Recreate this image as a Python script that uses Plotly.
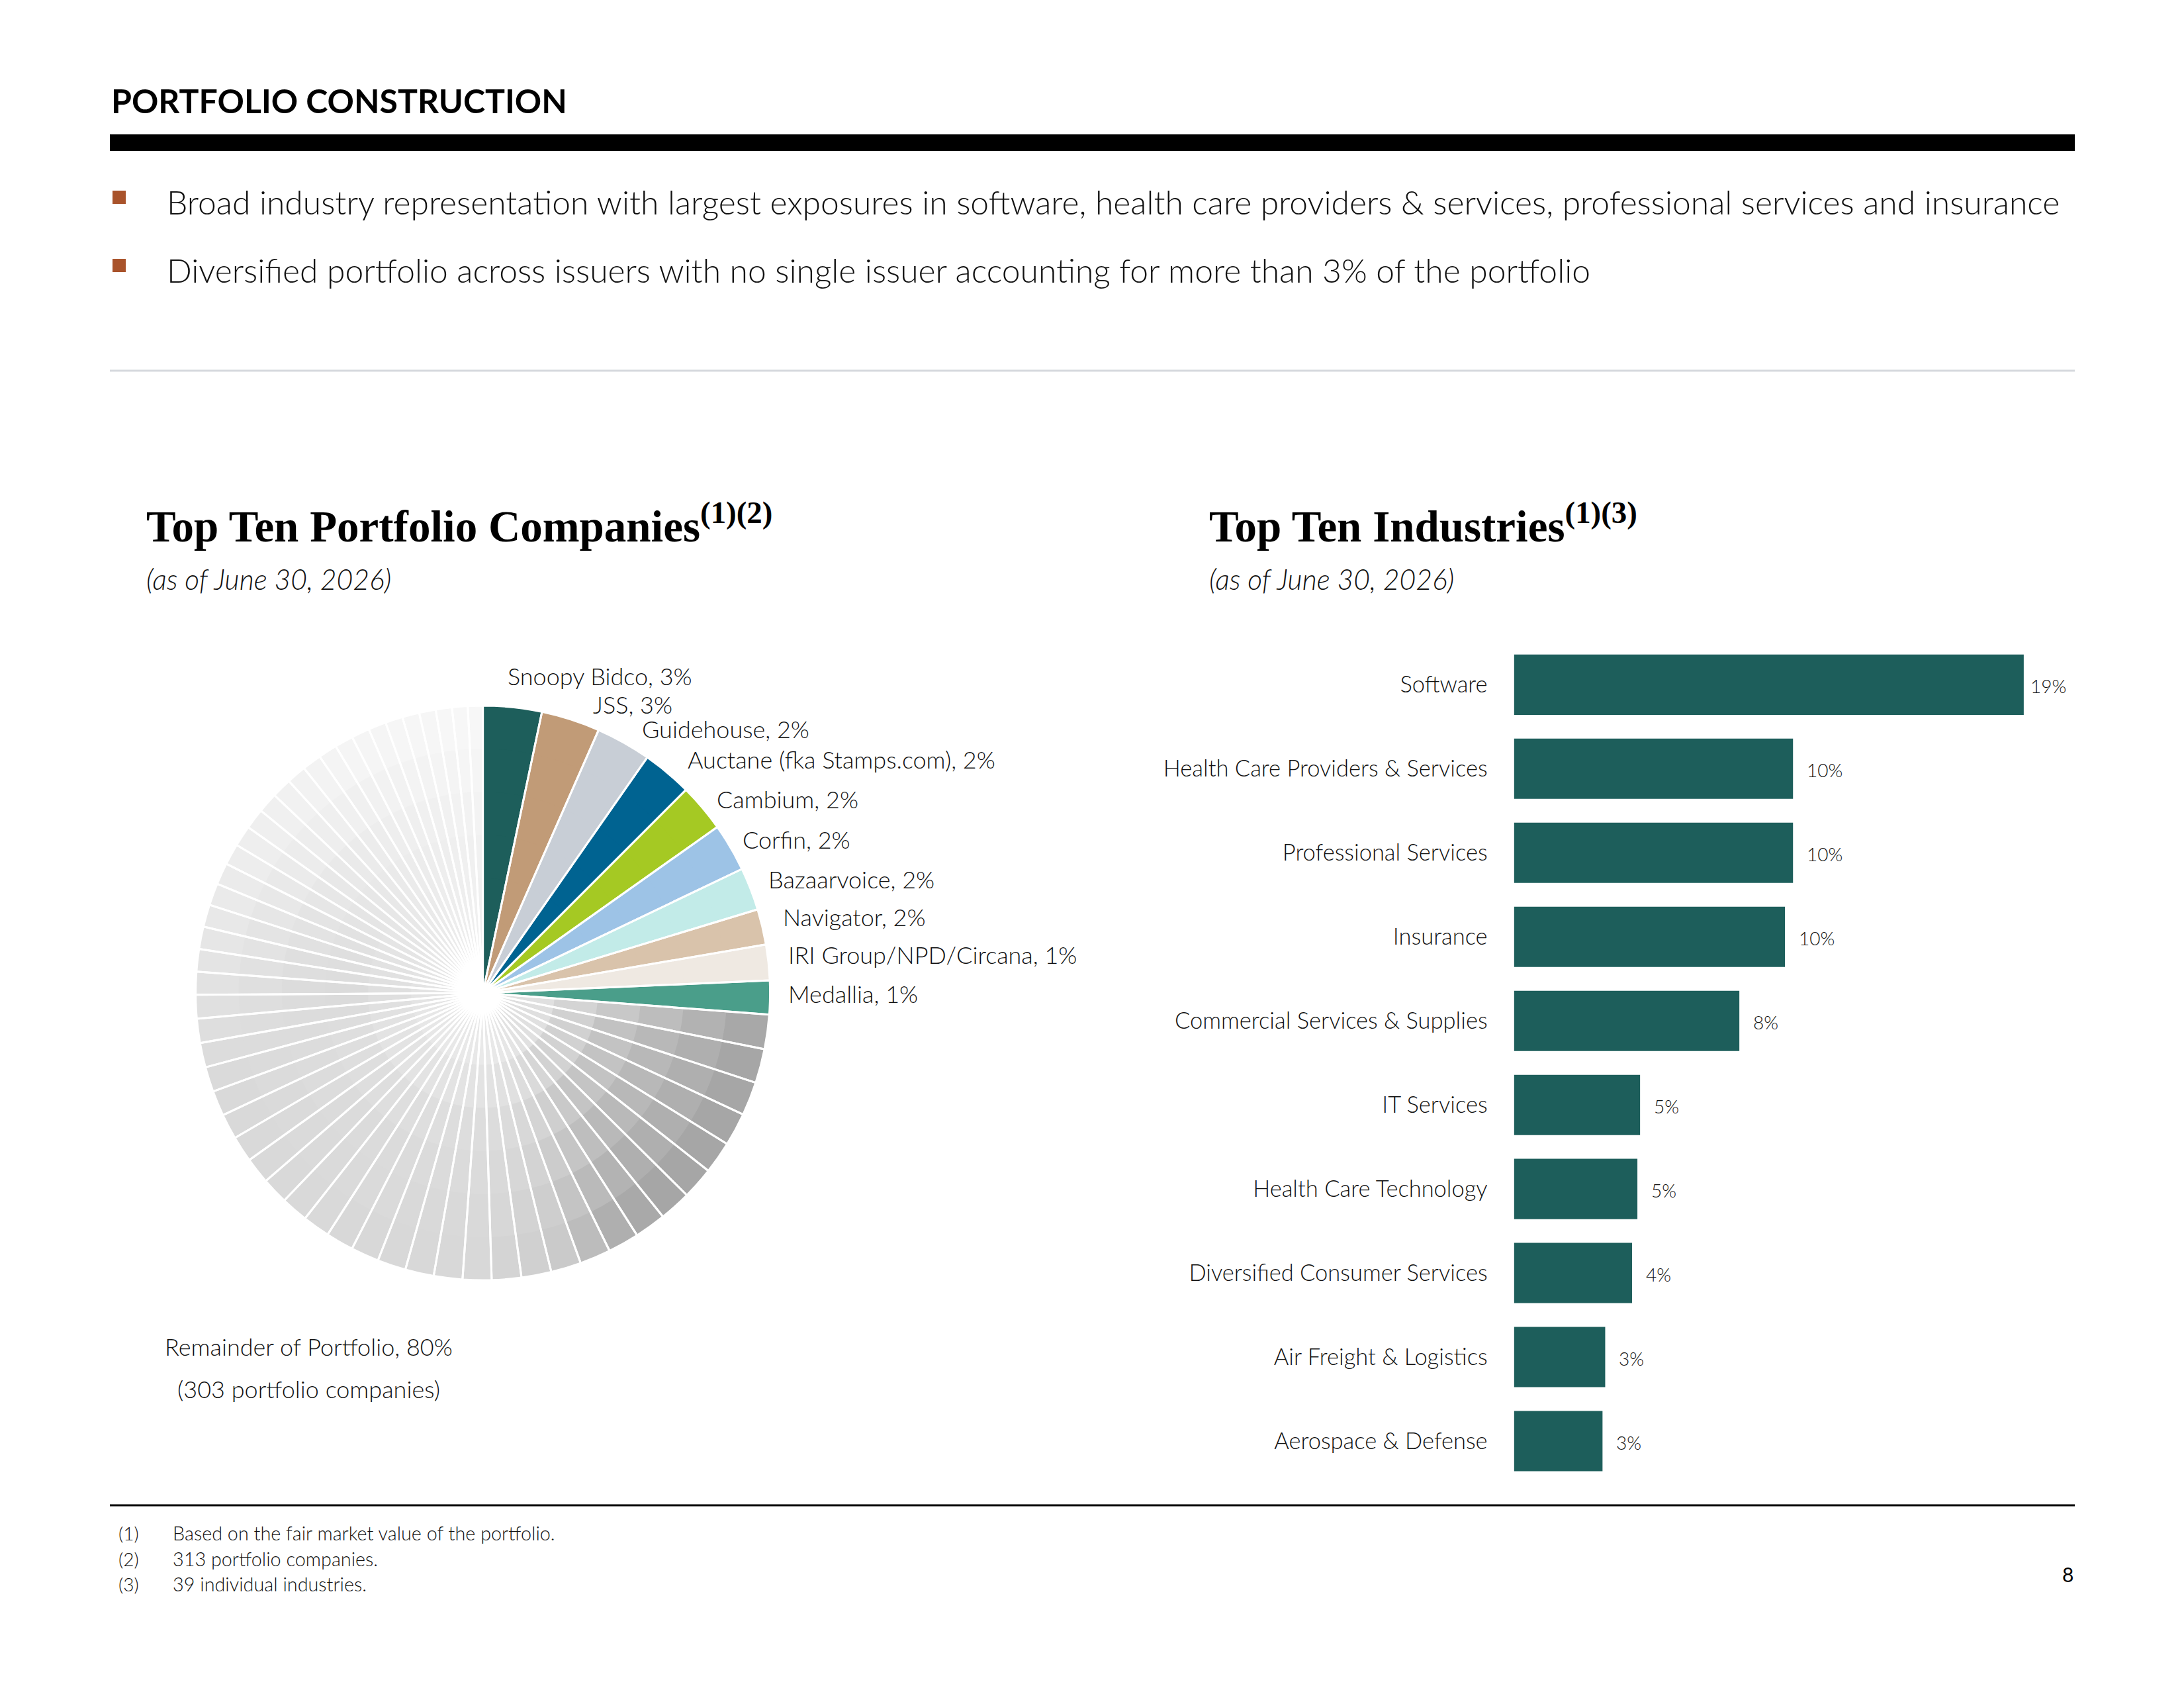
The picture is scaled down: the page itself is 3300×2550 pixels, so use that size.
import numpy as np
import plotly.graph_objects as go

# ---------------- data ----------------
company_names = [
    "Snoopy Bidco", "JSS", "Guidehouse", "Auctane (fka Stamps.com)", "Cambium",
    "Corfin", "Bazaarvoice", "Navigator", "IRI Group/NPD/Circana", "Medallia",
]
company_pct_text = ["3%", "3%", "2%", "2%", "2%", "2%", "2%", "2%", "1%", "1%"]
# slice sizes as drawn in the pie (% of the circle)
company_share = [3.3, 3.3, 3.1, 2.8, 2.7, 2.7, 2.4, 2.0, 2.0, 1.9]
remainder_share = [
    1.94, 1.92, 1.89, 1.86, 1.82, 1.80, 1.78, 1.77, 1.75, 1.74,
    1.70, 1.68, 1.66, 1.62, 1.61, 1.61, 1.60, 1.58, 1.56, 1.54,
    1.52, 1.49, 1.48, 1.46, 1.43, 1.42, 1.40, 1.38, 1.36, 1.33,
    1.28, 1.27, 1.26, 1.25, 1.24, 1.22, 1.19, 1.17, 1.16, 1.14,
    1.12, 1.10, 1.08, 1.06, 1.04, 1.02, 1.00, 0.98, 0.96, 0.93,
    0.91, 0.88, 0.84,
]
remainder_text = ["Remainder of Portfolio, 80%", "(303 portfolio companies)"]

industries = [
    "Software", "Health Care Providers & Services", "Professional Services",
    "Insurance", "Commercial Services & Supplies", "IT Services",
    "Health Care Technology", "Diversified Consumer Services",
    "Air Freight & Logistics", "Aerospace & Defense",
]
industry_share = [19.0, 10.4, 10.4, 10.1, 8.4, 4.7, 4.6, 4.4, 3.4, 3.3]
industry_pct_text = ["19%", "10%", "10%", "10%", "8%", "5%", "5%", "4%", "3%", "3%"]

bullets = [
    "Broad industry representation with largest exposures in software, health care providers & services, professional services and insurance",
    "Diversified portfolio across issuers with no single issuer accounting for more than 3% of the portfolio",
]
footnotes = [
    ("(1)", "Based on the fair market value of the portfolio."),
    ("(2)", "313 portfolio companies."),
    ("(3)", "39 individual industries."),
]

# ---------------- styling ----------------
W, H = 3300, 2550
SANS = "Lato"
TEAL = "#1d5e5b"
company_colors = [
    "#1d5e5b", "#c19b77", "#c8ced6", "#006391", "#a5c923",
    "#9dc3e6", "#c2ebe8", "#d9c3ab", "#efe9e2", "#4a9e8a",
]
# grey shading of the remainder slices: grey level by angle at rim / mid radius / near centre
shade_angle = [90, 100, 140, 150, 165, 180, 250, 270, 300, 330, 360]
shade_rim = [176, 166, 166, 174, 206, 216, 218, 226, 238, 245, 248]
shade_mid = [220, 190, 192, 204, 216, 220, 221, 218, 228, 236, 242]
shade_core = [232, 228, 230, 232, 234, 235, 233, 228, 231, 235, 240]
ring_fracs = [1.0, 0.85, 0.7, 0.55, 0.4, 0.25]
RULE_X0, RULE_X1 = 166, 3135


def px(x, y):
    return x / W, 1 - y / H


def note(x, y, text, size, color="#111111", weight=300, anchor="left",
         family=SANS, style="normal"):
    ax, ay = px(x, y)
    return dict(
        x=ax, y=ay, xref="paper", yref="paper", text=text, showarrow=False,
        xanchor=anchor, yanchor="middle",
        font=dict(family=family, size=size, color=color, weight=weight, style=style),
    )


values = company_share + remainder_share
total = sum(values)
mid_angle = (np.cumsum(values) - np.array(values) / 2) / total * 360
rem_angle = mid_angle[len(company_share):]


def ring_colors(frac):
    rim = np.interp(rem_angle, shade_angle, shade_rim)
    mid = np.interp(rem_angle, shade_angle, shade_mid)
    core = np.interp(rem_angle, shade_angle, shade_core)
    if frac >= 0.6:
        t = (frac - 0.6) / 0.4
        greys = mid + (rim - mid) * t
    else:
        t = (frac - 0.2) / 0.4
        greys = core + (mid - core) * max(t, 0)
    return company_colors + [f"rgb({int(g)},{int(g)},{int(g)})" for g in greys]


cx, cy, R = 729.6, 1500, 434


def pie_domain(frac):
    r = R * frac
    return dict(
        x=[(cx - r) / W, (cx + r) / W],
        y=[1 - (cy + r) / H, 1 - (cy - r) / H],
    )


fig = go.Figure()

for frac in ring_fracs:
    fig.add_trace(
        go.Pie(
            values=values, sort=False, direction="clockwise", rotation=0,
            domain=pie_domain(frac), textinfo="none", hoverinfo="skip",
            showlegend=False,
            marker=dict(colors=ring_colors(frac), line=dict(width=0)),
        )
    )
# white separators on top
fig.add_trace(
    go.Pie(
        values=values, sort=False, direction="clockwise", rotation=0,
        domain=pie_domain(1.0), textinfo="none", hoverinfo="skip",
        showlegend=False,
        marker=dict(colors=["rgba(0,0,0,0)"] * len(values),
                    line=dict(color="white", width=3)),
    )
)

# --- bar chart ---
fig.add_trace(
    go.Bar(
        x=industry_share, y=industries, orientation="h",
        marker=dict(color=TEAL, line=dict(width=0)),
        hoverinfo="skip", showlegend=False,
    )
)

annotations = []
top_share = max(industry_share)
for v, cat, t in zip(industry_share, industries, industry_pct_text):
    annotations.append(dict(
        x=v, y=cat, xref="x", yref="y", text=t, showarrow=False,
        xanchor="left", yanchor="middle", xshift=8 if v == top_share else 19,
        yshift=-2,
        font=dict(family=SANS, size=28, color="#111111", weight=300),
    ))

# header and bullets
annotations.append(note(166, 152, "PORTFOLIO CONSTRUCTION", 50, "#000000", 700))
for i, b in enumerate(bullets):
    annotations.append(note(250, 305 + i * 103, b, 49.8))

# chart titles
annotations.append(note(219, 790, "Top Ten Portfolio Companies<sup>(1)(2)</sup>", 67,
                        "#000000", 700, family="Liberation Serif"))
annotations.append(note(219, 874, "(as of June 30, 2026)", 42.7, style="italic"))
annotations.append(note(1825, 790, "Top Ten Industries<sup>(1)(3)</sup>", 67,
                        "#000000", 700, family="Liberation Serif"))
annotations.append(note(1825, 874, "(as of June 30, 2026)", 42.7, style="italic"))

# pie labels
label_pos = [
    (765, 1021), (894, 1064), (968, 1101), (1037, 1147), (1081, 1207),
    (1120, 1268), (1159, 1328), (1181, 1385), (1189, 1442), (1189, 1501),
]
for (lx, ly), name, pct in zip(label_pos, company_names, company_pct_text):
    annotations.append(note(lx, ly, f"{name}, {pct}", 36))
annotations.append(note(466, 2034, remainder_text[0], 36, anchor="center"))
annotations.append(note(466, 2098, remainder_text[1], 36, anchor="center"))

# footnotes and page number
for i, (mark, txt) in enumerate(footnotes):
    annotations.append(note(177, 2316 + i * 38.5, mark, 28))
    annotations.append(note(259, 2316 + i * 38.5, txt, 28.8))
annotations.append(note(3124, 2378, "8", 30, "#000000", 400, anchor="center"))

shapes = [
    # thick rule under header
    dict(type="rect", xref="paper", yref="paper",
         x0=RULE_X0 / W, x1=RULE_X1 / W, y0=1 - 228 / H, y1=1 - 203 / H,
         fillcolor="#000000", line=dict(width=0)),
    # thin grey rule
    dict(type="line", xref="paper", yref="paper",
         x0=RULE_X0 / W, x1=RULE_X1 / W, y0=1 - 560 / H, y1=1 - 560 / H,
         line=dict(color="#d6d9dd", width=3)),
    # footnote rule
    dict(type="line", xref="paper", yref="paper",
         x0=RULE_X0 / W, x1=RULE_X1 / W, y0=1 - 2274 / H, y1=1 - 2274 / H,
         line=dict(color="#000000", width=3)),
]
for i in range(len(bullets)):
    y0 = 288 + i * 103
    shapes.append(dict(type="rect", xref="paper", yref="paper",
                       x0=170 / W, x1=190 / W, y0=1 - (y0 + 20) / H, y1=1 - y0 / H,
                       fillcolor="#a9532b", line=dict(width=0)))

fig.update_layout(
    width=W, height=H,
    margin=dict(l=0, r=0, t=0, b=0),
    paper_bgcolor="white", plot_bgcolor="white",
    bargap=0.283,
    xaxis=dict(domain=[2287.6 / W, (2287.6 + 20 * 40.54) / W], range=[0, 20],
               visible=False, fixedrange=True),
    yaxis=dict(domain=[1 - 2240.5 / H, 1 - 970.9 / H], autorange="reversed",
               showgrid=False, zeroline=False, showline=False, ticks="",
               ticklabelstandoff=39,
               tickfont=dict(family=SANS, size=34.5, color="#111111", weight=300)),
    annotations=annotations,
    shapes=shapes,
)

# page body margin off so the 3300 px figure fills the window exactly
fig.write_html("out.html", config={"displayModeBar": False},
               post_script="document.body.style.margin='0';")
